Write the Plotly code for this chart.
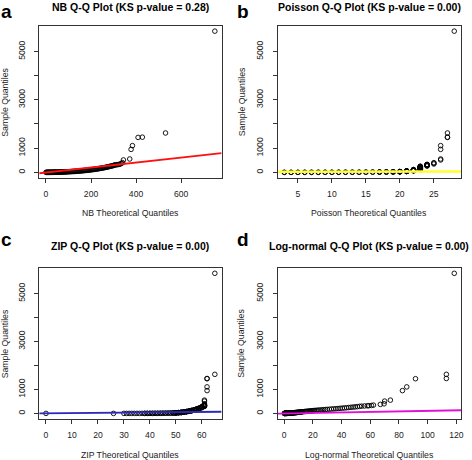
import plotly.graph_objects as go

# ---------------- data ----------------
sample_q = [0, 0, 0, 0, 0, 1, 1, 1, 1, 2, 2, 2, 2, 3, 3, 3, 4, 4, 4, 5, 5, 6, 6,
            7, 8, 9, 10, 11, 12, 13, 14, 15, 16, 17, 18, 19, 20, 21,
            23, 24, 26, 28, 30, 32, 34, 36, 38, 40,
            43, 46, 49, 52, 55, 58, 61, 64, 68, 72,
            76, 80, 84, 88, 92, 96, 100, 105, 110, 115,
            120, 125, 130, 136, 142, 148, 154, 160, 167, 174,
            181, 188, 195, 203, 211, 219, 227, 236, 245, 254,
            263, 272, 282, 292, 302,
            310, 317, 322, 330, 346, 375, 400,
            512, 553, 950, 1105, 1445, 1455, 1628, 5840]

nb_q = [0, 2, 4, 6, 8, 10, 12, 14, 16, 18, 20, 22, 24, 26, 28, 30, 32, 34, 36, 38, 40, 42, 44,
        46, 49, 52, 55, 58, 61, 64, 67, 70, 73, 76, 79, 82, 85, 88,
        91, 95, 99, 103, 107, 111, 115, 119, 123, 127,
        131, 135, 139, 143, 147, 151, 155, 159, 163, 167,
        171, 175, 179, 183, 187, 191, 195, 199, 203, 207,
        211, 215, 219, 223, 227, 231, 235, 239, 243, 247,
        251, 255, 259, 263, 267, 271, 275, 279, 283, 287,
        291, 295, 299, 302, 305,
        310, 315, 320, 325, 330, 336, 340,
        344, 372, 378, 384, 409, 428, 531, 750]

pois_q = [3, 3, 4, 4, 5, 5, 6, 6, 7, 7, 8, 8, 9, 9, 10, 10, 11, 11, 12, 12, 13, 13, 14,
          14, 15, 15, 16, 16, 17, 17, 17, 18, 18, 18, 19, 19, 19, 19,
          20, 20, 20, 20, 20, 20, 20, 21, 21, 21,
          21, 21, 21, 21, 21, 21, 21, 22, 22, 22,
          22, 22, 22, 22, 22, 22, 22, 22, 22, 22,
          23, 23, 23, 23, 23, 23, 23, 23, 23, 23,
          23, 23, 23, 23, 23, 23, 23, 23, 23, 23,
          24, 24, 24, 24, 24,
          24, 24, 24, 24, 25, 25, 25,
          26, 26, 26, 26, 27, 27, 27, 28]

zip_q = [0, 26, 30, 31, 32, 33, 34, 35, 36, 37, 38, 38, 39, 39, 40, 40, 41, 41, 42, 42, 43, 43, 44,
         44, 45, 45, 46, 46, 47, 47, 48, 48, 49, 49, 49, 50, 50, 50,
         50, 50, 51, 51, 51, 51, 52, 52, 52, 52,
         52, 52, 53, 53, 53, 53, 53, 54, 54, 54,
         54, 54, 55, 55, 55, 55, 55, 56, 56, 56,
         56, 56, 57, 57, 57, 57, 57, 58, 58, 58,
         58, 58, 59, 59, 59, 59, 59, 60, 60, 60,
         60, 60, 60, 61, 61,
         61, 61, 61, 61, 61, 61, 61,
         61, 61, 62, 62, 62, 62, 65, 65]

lnorm_q = [0.1, 0.2, 0.3, 0.4, 0.5, 0.6, 0.7, 0.8, 0.9, 1.0, 1.1, 1.2, 1.3, 1.4, 1.5, 1.6, 1.7, 1.8, 1.9, 2.0, 2.2, 2.4, 2.6,
           2.8, 3.0, 3.2, 3.4, 3.6, 3.8, 4.0, 4.2, 4.4, 4.6, 4.8, 5.0, 5.3, 5.6, 5.9,
           6.2, 6.5, 6.8, 7.1, 7.4, 7.7, 8.0, 8.3, 8.6, 8.9,
           9.3, 9.7, 10.1, 10.5, 10.9, 11.3, 11.7, 12.1, 12.6, 13.1,
           14.0, 14.7, 15.4, 16.1, 16.8, 17.5, 18.2, 18.9, 19.6, 20.3,
           21.0, 22.0, 23.0, 24.0, 25.2, 26.4, 27.6, 28.8, 30.0, 31.5,
           33.0, 34.5, 36.0, 37.5, 39.0, 40.5, 42.0, 43.5, 45.0, 46.5,
           48.0, 49.5, 51.0, 52.5, 54.0,
           56.0, 58.0, 59.0, 60.8, 62.2, 67.0, 69.6,
           70.0, 74.0, 82.4, 85.4, 91.5, 113.0, 113.0, 118.5]

panel_titles = ["NB Q-Q Plot (KS p-value = 0.28)",
                "Poisson Q-Q Plot (KS p-value = 0.00)",
                "ZIP Q-Q Plot (KS p-value = 0.00)",
                "Log-normal Q-Q Plot (KS p-value = 0.00)"]
x_titles = ["NB Theoretical Quantiles", "Poisson Theoretical Quantiles",
            "ZIP Theoretical Quantiles", "Log-normal Theoretical Quantiles"]
y_title = "Sample Quantiles"
letters = ["a", "b", "c", "d"]

line_intercepts = [-6, 22, 0, -5]
line_slopes = [1.03, 0.5, 1.0, 1.1]

x_tickvals = [[0, 200, 400, 600],
              [5, 10, 15, 20, 25],
              [0, 10, 20, 30, 40, 50, 60],
              [0, 20, 40, 60, 80, 100, 120]]
y_tickvals = [0, 1000, 2000, 3000, 4000, 5000]
y_ticktext = ["0", "1000", "", "3000", "", "5000"]

theo = [nb_q, pois_q, zip_q, lnorm_q]

# ---------------- styling / layout ----------------
W, H = 472, 460
FONT = "Liberation Sans, Arial, sans-serif"
line_colors = ["#ff1010", "#ffff30", "#2a2ab8", "#e010d8"]
line_widths = [1.8, 2.6, 1.8, 1.8]

cols = [(39.5, 223.0), (279.3, 464.0)]
rows = [(25.5, 178.0), (267.7, 419.0)]
title_y = [7.0, 246.0]
xtitle_y = [213.0, 455.0]
ytitle_x = [5.0, 243.0]
letter_x = [0.0, 238.0]
letter_top = [0.0, 228.0]


def pad(lo, hi):
    d = hi - lo
    return [lo - 0.04 * d, hi + 0.04 * d]


fig = go.Figure()
yr = pad(min(sample_q), max(sample_q))
annotations = []

for i in range(4):
    r, c = divmod(i, 2)
    ax = "" if i == 0 else str(i + 1)
    xr = pad(min(theo[i]), max(theo[i]))
    x0, x1 = cols[c]
    y0, y1 = rows[r]
    fig.add_trace(go.Scatter(
        x=theo[i], y=sample_q, mode="markers",
        marker=dict(symbol="circle-open", size=4.6, color="black", line=dict(width=0.9, color="black")),
        xaxis="x" + ax, yaxis="y" + ax, showlegend=False, hoverinfo="skip"))
    lx = xr
    ly = [line_intercepts[i] + line_slopes[i] * v for v in lx]
    fig.add_trace(go.Scatter(
        x=lx, y=ly, mode="lines",
        line=dict(color=line_colors[i], width=line_widths[i]),
        xaxis="x" + ax, yaxis="y" + ax, showlegend=False, hoverinfo="skip"))
    common = dict(showgrid=False, zeroline=False, showline=True, mirror=True,
                  linecolor="#333333", linewidth=1, ticks="outside", ticklen=4,
                  tickwidth=1, tickcolor="#333333",
                  tickfont=dict(family=FONT, size=8.6, color="#222222"))
    fig.update_layout(**{
        "xaxis" + ax: dict(domain=[x0 / W, x1 / W], range=xr, anchor="y" + ax,
                           tickvals=x_tickvals[i], ticklabelstandoff=4, **common),
        "yaxis" + ax: dict(domain=[1 - y1 / H, 1 - y0 / H], range=yr, anchor="x" + ax,
                           tickvals=y_tickvals, ticktext=y_ticktext, tickangle=-90,
                           ticklabelstandoff=6, **common),
    })
    cx = (x0 + x1) / 2 / W
    annotations.append(dict(text="<b>" + panel_titles[i] + "</b>", x=cx, y=1 - title_y[r] / H,
                            xref="paper", yref="paper", xanchor="center", yanchor="middle",
                            showarrow=False, font=dict(family=FONT, size=10.5, color="black")))
    annotations.append(dict(text=x_titles[i], x=cx, y=1 - xtitle_y[r] / H,
                            xref="paper", yref="paper", xanchor="center", yanchor="middle",
                            showarrow=False, font=dict(family=FONT, size=8.7, color="#222222")))
    annotations.append(dict(text=y_title, x=ytitle_x[c] / W, y=1 - (y0 + y1) / 2 / H,
                            xref="paper", yref="paper", xanchor="center", yanchor="middle",
                            textangle=-90, showarrow=False,
                            font=dict(family=FONT, size=8.7, color="#222222")))
    annotations.append(dict(text="<b>" + letters[i] + "</b>", x=letter_x[c] / W, y=1 - letter_top[r] / H,
                            xref="paper", yref="paper", xanchor="left", yanchor="top",
                            borderpad=0, showarrow=False,
                            font=dict(family=FONT, size=19, color="black")))

fig.update_layout(width=W, height=H, margin=dict(l=0, r=0, t=0, b=0),
                  paper_bgcolor="white", plot_bgcolor="white",
                  annotations=annotations, showlegend=False)

fig.write_html("out.html", config={"displayModeBar": False},
               post_script="document.body.style.margin='0';document.body.style.padding='0';"
                           "document.body.style.overflow='hidden';")
